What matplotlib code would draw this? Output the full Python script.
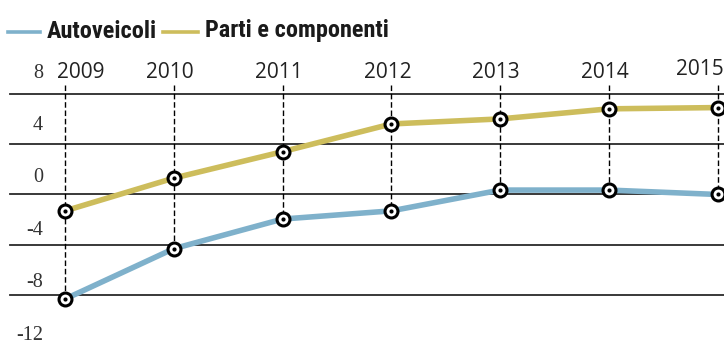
import matplotlib
matplotlib.use("Agg")
import matplotlib.pyplot as plt

years = [2009, 2010, 2011, 2012, 2013, 2014, 2015]
autoveicoli = [-8.3, -4.3, -1.95, -1.3, 0.35, 0.35, 0.0]
parti = [-1.3, 1.3, 3.4, 5.6, 6.0, 6.8, 6.9]
series_names = ["Autoveicoli", "Parti e componenti"]
yticks = [8, 4, 0, -4, -8, -12]
grid_values = [8, 4, 0, -4, -8]

BLUE = "#7fb1cb"
YELLOW = "#cdbd5c"
DARK = "#2a2a2a"

W, H = 724, 344
fig = plt.figure(figsize=(W / 100, H / 100), dpi=100)
ax = fig.add_axes([0, 0, 1, 1])
ax.set_xlim(2008.4026, 2015.057)
ax.set_ylim(-11.87, 15.44)
ax.axis("off")

for v in grid_values:
    ax.axhline(v, xmin=10 / W, xmax=1, color=DARK, lw=1.3, zorder=1)

top_v = 8.7
for x, a, p in zip(years, autoveicoli, parti):
    ax.plot([x, x], [top_v, min(a, p)], color="black", lw=1.0,
            ls=(0, (4, 2)), zorder=2)

ax.plot(years, autoveicoli, color=BLUE, lw=4.0, solid_capstyle="butt", zorder=3)
ax.plot(years, parti, color=YELLOW, lw=4.0, solid_capstyle="butt", zorder=3)

for s in (autoveicoli, parti):
    ax.plot(years, s, ls="none", marker="o", ms=9.3, mfc="white",
            mec="black", mew=2.2, zorder=4)
    ax.plot(years, s, ls="none", marker="o", ms=3.0, mfc="black",
            mec="black", mew=0, zorder=5)

for v in yticks:
    ax.text(2008.4026 + 43 / 108.8, v * 1.0397 + 1.31, str(v),
            ha="right", va="center", fontsize=14.5,
            family=["Liberation Serif", "DejaVu Serif"], color="#333333")

year_y = (194.5 - 72) / 12.6
for i, y in enumerate(years):
    if i == 0:
        ax.text(y - 8 / 108.8, year_y, str(y), ha="left", va="center",
                fontsize=15, family=["Open Sans", "DejaVu Sans"], color="#222222")
    elif i == len(years) - 1:
        ax.text(y + 6 / 108.8, year_y + 0.2, str(y), ha="right", va="center",
                fontsize=15, family=["Open Sans", "DejaVu Sans"], color="#222222")
    else:
        ax.text(y - 4 / 108.8, year_y, str(y), ha="center", va="center",
                fontsize=15, family=["Open Sans", "DejaVu Sans"], color="#222222")

def px(x, y):
    return x / W, 1 - y / H

fig.add_artist(plt.Line2D([px(8, 0)[0], px(40, 0)[0]], [px(0, 32)[1]] * 2,
                          color=BLUE, lw=2.6, transform=fig.transFigure))
fig.text(*px(47, 31), series_names[0], ha="left", va="center", fontsize=17.5,
         fontweight="bold", fontstretch="condensed",
         family=["Roboto Condensed", "Roboto", "DejaVu Sans"], color="#1a1a1a")
fig.add_artist(plt.Line2D([px(163, 0)[0], px(198, 0)[0]], [px(0, 32)[1]] * 2,
                          color=YELLOW, lw=2.6, transform=fig.transFigure))
fig.text(*px(205, 31), series_names[1], ha="left", va="center", fontsize=17.5,
         fontweight="bold", fontstretch="condensed",
         family=["Roboto Condensed", "Roboto", "DejaVu Sans"], color="#1a1a1a")

fig.savefig("out.png", dpi=100, facecolor="white")
